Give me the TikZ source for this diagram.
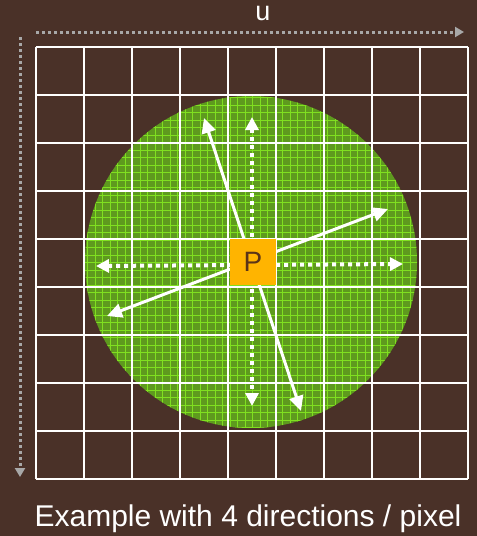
\documentclass[tikz,border=0pt]{standalone}
\usepackage{fontspec}
\setmainfont{Liberation Sans}
\usetikzlibrary{arrows.meta}
\definecolor{bgbrown}{HTML}{4A3128}
\definecolor{discgreen}{HTML}{5E9A1E}
\definecolor{finegreen}{HTML}{80E020}
\definecolor{pgold}{HTML}{FFB400}
\definecolor{axisgray}{HTML}{A8A8A8}
\definecolor{ptext}{HTML}{5A3418}
\tikzset{
  gridline/.style={white, line width=2.6pt},
  fineline/.style={finegreen, line width=0.8pt},
  dirarrow/.style={white, line width=3pt, {Triangle[length=15pt,width=14pt]}-{Triangle[length=15pt,width=14pt]}},
  dotarrow/.style={white, line width=4pt, dash pattern=on 4pt off 4pt, {Triangle[length=13pt,width=13pt]}-{Triangle[length=13pt,width=13pt]}},
  axisarrow/.style={axisgray, line width=3pt, dash pattern=on 3pt off 3pt, -{Triangle[length=9pt,width=10pt]}},
  pbox/.style={fill=pgold, draw=none, minimum width=46pt, minimum height=46pt, inner sep=0pt, text=ptext, font=\fontsize{28}{28}\selectfont},
  lbl/.style={text=white, inner sep=0pt, font=\fontsize{30}{30}\selectfont}
}
\begin{document}
\begin{tikzpicture}[x=1pt,y=-1pt]
\fill[bgbrown] (0,0) rectangle (477,536);
\useasboundingbox (0,0) rectangle (477,536);
% disc
\fill[discgreen] (251,262) circle (166);
\begin{scope}
\clip (251,262) circle (166);
\foreach \i in {0,...,45} {
  \draw[fineline] (80+\i*7.5,90) -- (80+\i*7.5,440);
  \draw[fineline] (80,90+\i*7.5) -- (430,90+\i*7.5);
}
\end{scope}
% grid
\foreach \i in {0,...,9} {
  \draw[gridline] (36+\i*48,47) -- (36+\i*48,479);
  \draw[gridline] (36,47+\i*48) -- (468,47+\i*48);
}
% axes
\coordinate (ua) at (36,32);
\coordinate (ub) at (464,32);
\coordinate (va) at (20,37);
\coordinate (vb) at (20,477);
\draw[axisarrow] (ua) -- (ub);
\draw[axisarrow] (va) -- (vb);
\node[lbl, anchor=base, font=\fontsize{27}{27}\selectfont] (ulabel) at (263,20) {u};
% direction arrows
\coordinate (d1a) at (107,316);
\coordinate (d1b) at (388,209);
\coordinate (d2a) at (204,118);
\coordinate (d2b) at (301,411);
\coordinate (d3a) at (252,117);
\coordinate (d3b) at (252,406);
\coordinate (d4a) at (96,266);
\coordinate (d4b) at (403,264);
\draw[dotarrow] (d3a) -- (d3b);
\draw[dotarrow] (d4a) -- (d4b);
\draw[dirarrow] (d1a) -- (d1b);
\draw[dirarrow] (d2a) -- (d2b);
% P pixel
\node[pbox] (P) at (253,262) {P};
% caption
\node[lbl, anchor=base] (caption) at (248,526) {Example with 4 directions / pixel};
\end{tikzpicture}
\end{document}
